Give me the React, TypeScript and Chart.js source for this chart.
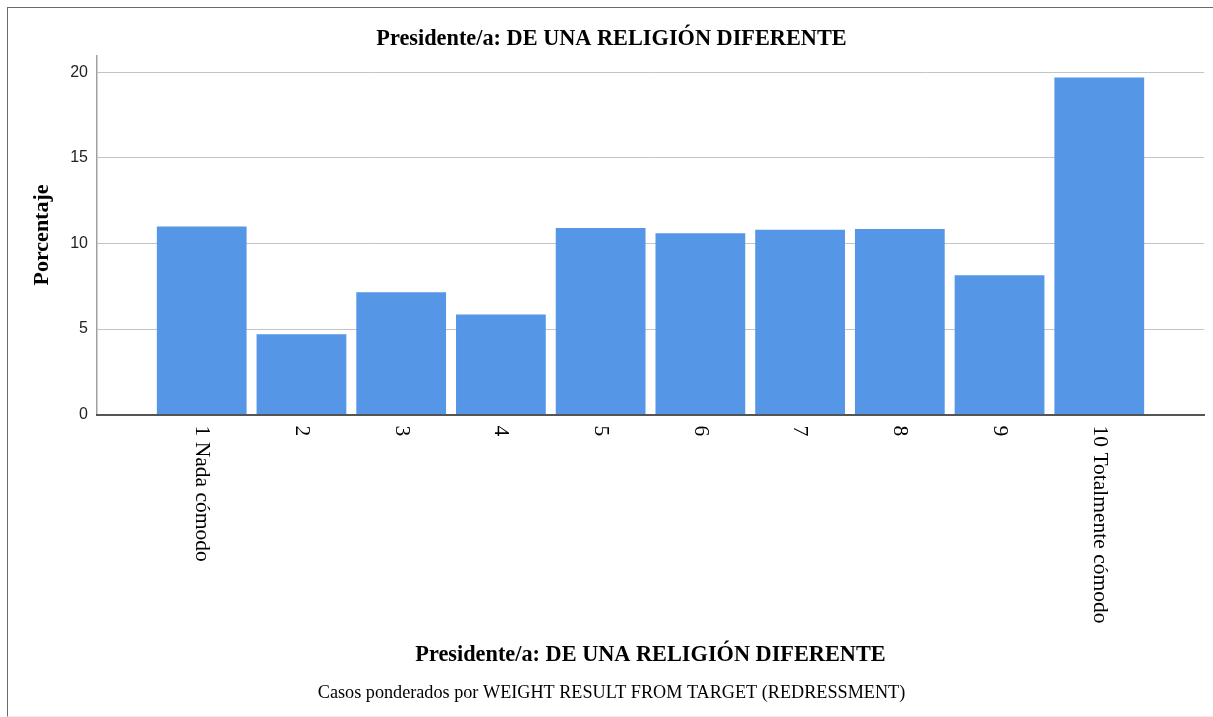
import { useEffect, useRef } from "react";
import { Chart, registerables } from "chart.js";

Chart.register(...registerables);

const categories = [
  "1 Nada cómodo",
  "2",
  "3",
  "4",
  "5",
  "6",
  "7",
  "8",
  "9",
  "10 Totalmente cómodo",
];
const percentages = [11.0, 4.7, 7.15, 5.85, 10.9, 10.6, 10.8, 10.85, 8.15, 19.7];
const yTickValues = [0, 5, 10, 15, 20];
const chartTitle = "Presidente/a: DE UNA RELIGIÓN DIFERENTE";
const xAxisTitle = "Presidente/a: DE UNA RELIGIÓN DIFERENTE";
const yAxisTitle = "Porcentaje";
const footnote = "Casos ponderados por WEIGHT RESULT FROM TARGET (REDRESSMENT)";

const SERIF = '"Liberation Serif", "Times New Roman", serif';
const SANS = '"Liberation Sans", Arial, sans-serif';
const LABEL_FONT_SIZE = 21.5;

const rotatedXLabels = {
  id: "rotatedXLabels",
  afterDraw(chart: any) {
    const { ctx, chartArea } = chart;
    const xs = chart.scales.x;
    ctx.save();
    ctx.font = `${LABEL_FONT_SIZE}px ${SERIF}`;
    ctx.fillStyle = "#000";
    ctx.textAlign = "left";
    ctx.textBaseline = "middle";
    categories.forEach((label, i) => {
      const x = xs.getPixelForValue(i + 1);
      ctx.save();
      ctx.translate(x, chartArea.bottom + 11);
      ctx.rotate(Math.PI / 2);
      ctx.fillText(label, 0, 0);
      ctx.restore();
    });
    ctx.restore();
  },
};

export default function App() {
  const canvasRef = useRef<HTMLCanvasElement | null>(null);

  useEffect(() => {
    if (!canvasRef.current) return;
    const chart = new Chart(canvasRef.current, {
      type: "bar",
      data: {
        datasets: [
          {
            data: percentages.map((v, i) => ({ x: i + 1, y: v })),
            backgroundColor: "#5596E6",
            borderWidth: 0,
            categoryPercentage: 1,
            barPercentage: 0.9,
          },
        ],
      },
      options: {
        responsive: false,
        animation: false,
        layout: { padding: { left: 11, right: 9, top: 0, bottom: 0 } },
        plugins: {
          legend: { display: false },
          tooltip: { enabled: false },
          title: {
            display: true,
            text: chartTitle,
            color: "#000",
            font: { family: SERIF, size: 22.3, weight: "bold", lineHeight: 1.2 },
            padding: { top: 17.4, bottom: 3.2 },
          },
          subtitle: {
            display: true,
            position: "bottom",
            text: footnote,
            color: "#000",
            font: { family: SERIF, size: 18.2, lineHeight: 1.2 },
            padding: { top: 0, bottom: 12.1 },
          },
        },
        scales: {
          x: {
            type: "linear",
            offset: false,
            min: -0.05,
            max: 11.05,
            afterBuildTicks: (scale: any) => {
              scale.ticks = categories.map((_, i) => ({ value: i + 1 }));
            },
            afterFit: (scale: any) => {
              scale.height = 267.5;
            },
            grid: { display: false, offset: false },
            border: { display: true, color: "#555555", width: 2, z: 1 },
            ticks: { display: false },
            title: {
              display: true,
              text: xAxisTitle,
              color: "#000",
              font: { family: SERIF, size: 22.3, weight: "bold", lineHeight: 1.2 },
              padding: { top: 0, bottom: 13.1 },
            },
          },
          y: {
            type: "linear",
            min: 0,
            max: 21,
            afterBuildTicks: (scale: any) => {
              scale.ticks = yTickValues.map((v) => ({ value: v }));
            },
            afterFit: (scale: any) => {
              scale.width = 78;
            },
            grid: {
              drawTicks: false,
              lineWidth: 1,
              color: (ctx: any) =>
                ctx.tick && ctx.tick.value === 0 ? "rgba(0,0,0,0)" : "#c4c4c4",
            },
            border: { display: true, color: "#a0a0a0", width: 1.5 },
            ticks: {
              color: "#222",
              padding: 9,
              font: { family: SANS, size: 16 },
            },
            title: {
              display: true,
              text: yAxisTitle,
              color: "#000",
              font: { family: SERIF, size: 22, weight: "bold", lineHeight: 1.2 },
              padding: { top: 9.8, bottom: 0 },
            },
          },
        },
      },
      plugins: [rotatedXLabels],
    } as any);
    return () => chart.destroy();
  }, []);

  return (
    <div
      style={{
        position: "fixed",
        left: 7,
        top: 7,
        width: 1206,
        height: 710,
        boxSizing: "border-box",
        borderLeft: "1px solid #6a6a6a",
        borderTop: "1px solid #6a6a6a",
        borderBottom: "1px solid #eeeeee",
        background: "#fff",
      }}
    >
      <canvas
        ref={canvasRef}
        width={1205}
        height={708}
        style={{ display: "block", width: 1205, height: 708 }}
      />
    </div>
  );
}
